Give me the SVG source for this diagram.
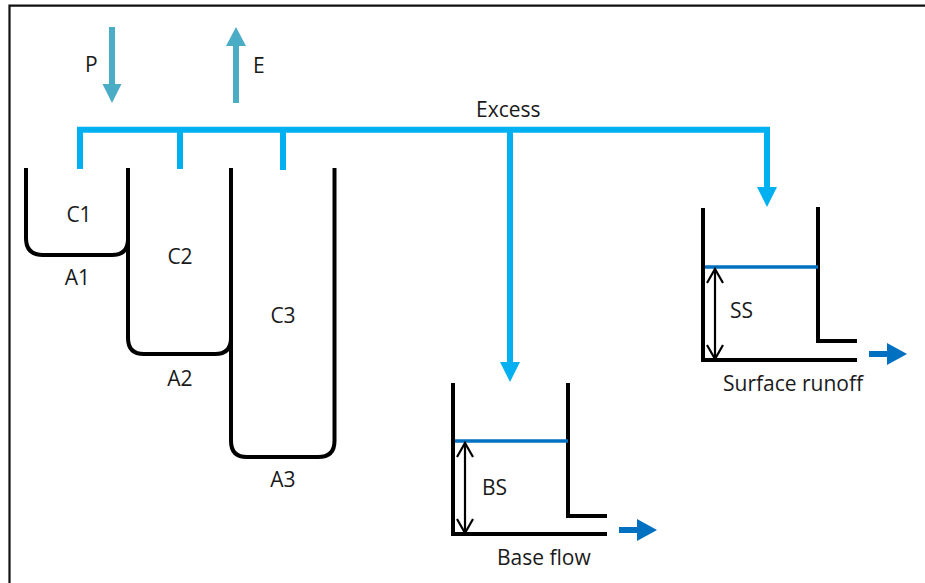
<svg xmlns="http://www.w3.org/2000/svg" width="925" height="583" viewBox="0 0 925 583">
<style>
  text { font-family: "Open Sans", "Liberation Sans", sans-serif; font-size: 21px; fill: #1a1a1a; }
  .c { text-anchor: middle; }
  .wall { fill: none; stroke: #000; stroke-width: 4; stroke-linejoin: miter; }
  .level { fill: none; stroke: #0070C0; stroke-width: 3.5; }
  .excess { fill: none; stroke: #00B0F0; stroke-width: 6; }
  .exhead { fill: #00B0F0; }
  .pe { fill: none; stroke: #4BACC6; stroke-width: 6; }
  .pehead { fill: #4BACC6; }
  .out { fill: none; stroke: #0070C0; stroke-width: 6; }
  .outhead { fill: #0070C0; }
  .dim { fill: none; stroke: #000; stroke-width: 2.2; }
  .chev { fill: none; stroke: #000; stroke-width: 2.2; stroke-linejoin: miter; }
</style>
<rect x="0" y="0" width="925" height="583" fill="#fff"/>
<path d="M9.5,583 V5.7 H925" fill="none" stroke="#111" stroke-width="2.2"/>

<g id="connectors">
  <!-- P and E -->
  <path class="pe" d="M112,27 V86"/>
  <polygon class="pehead" points="102.5,84 121.5,84 112,103"/>
  <path class="pe" d="M236,103 V44"/>
  <polygon class="pehead" points="226,46 246,46 236,27"/>
  <!-- Excess -->
  <path class="excess" d="M80,169 V129.7 H767 V190"/>
  <polygon class="exhead" points="757,187 777,187 767,207"/>
  <path class="excess" d="M180,129.7 V169"/>
  <path class="excess" d="M283,129.7 V170"/>
  <path class="excess" d="M510,129.7 V364"/>
  <polygon class="exhead" points="500,362 520,362 510,382"/>
  <!-- Outflows -->
  <path class="out" d="M619,530 H639"/>
  <polygon class="outhead" points="637,519 637,541 657,530"/>
  <path class="out" d="M869,354 H889"/>
  <polygon class="outhead" points="887,343 887,365 907,354"/>
</g>

<g id="labels-top">
  <text x="85" y="72">P</text>
  <text x="253" y="73">E</text>
  <text x="476" y="117">Excess</text>
</g>

<g id="C1">
  <path class="wall" d="M26,168 V238 Q26,255 43,255 H112 Q128,255 128,239"/>
  <text class="c" x="79" y="222">C1</text>
  <text class="c" x="77.5" y="285">A1</text>
</g>
<g id="C2">
  <path class="wall" d="M128,168 V338 Q128,354 144,354 H215 Q231,354 231,338"/>
  <text class="c" x="180" y="264">C2</text>
  <text class="c" x="180" y="386">A2</text>
</g>
<g id="C3">
  <path class="wall" d="M231,168 V441 Q231,457 247,457 H318 Q334.5,457 334.5,441 V168"/>
  <text class="c" x="283" y="323">C3</text>
  <text class="c" x="283" y="487">A3</text>
</g>

<g id="base-store">
  <path class="wall" d="M453,383 V534 H607"/>
  <path class="wall" d="M568,383 V516 H607"/>
  <path class="level" d="M455,441 H568"/>
  <path class="dim" d="M465,444 V532"/>
  <polyline class="chev" points="457,457 465,443 473,457"/>
  <polyline class="chev" points="457,519 465,533 473,519"/>
  <text x="482" y="495">BS</text>
  <text x="497" y="565">Base flow</text>
</g>

<g id="surface-store">
  <path class="wall" d="M703,208 V360 H857"/>
  <path class="wall" d="M818,207 V341 H857"/>
  <path class="level" d="M705,267 H818"/>
  <path class="dim" d="M715,270 V358"/>
  <polyline class="chev" points="707,283 715,269 723,283"/>
  <polyline class="chev" points="707,345 715,359 723,345"/>
  <text x="730" y="318">SS</text>
  <text x="723" y="391">Surface runoff</text>
</g>
</svg>
